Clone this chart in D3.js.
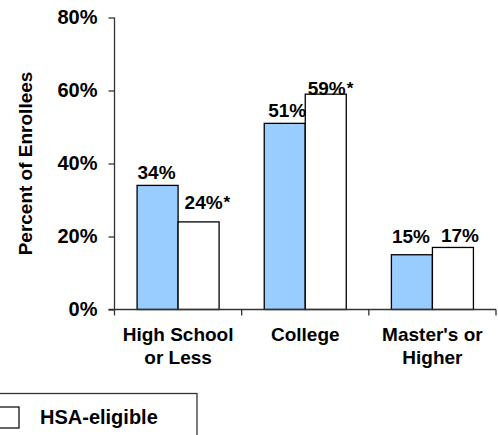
<!DOCTYPE html>
<html>
<head>
<meta charset="utf-8">
<script src="https://cdn.jsdelivr.net/npm/d3@7/dist/d3.min.js"></script>
<style>
  html, body { margin: 0; padding: 0; background: #fff; }
  svg { display: block; font-family: "Liberation Sans", Arial, sans-serif; font-weight: bold; }
</style>
</head>
<body>
<svg id="chart" width="498" height="435"></svg>
<script>
// Education level of enrollees, by plan type
const categories = [["High School", "or Less"], ["College"], ["Master's or", "Higher"]];
const seriesNames = ["Non-HSA-eligible", "HSA-eligible"];
const nonHsaValues = [34, 51, 15];
const hsaValues = [24, 59, 17];
const hsaSignificant = [true, true, false];
const yTicks = [0, 20, 40, 60, 80];

const colors = ["#99ccff", "#ffffff"];
// small hand placement of the value labels: [dx, dy] from the bar's top centre
const labelNudge = [
  [[-1, -6.5], [5, -13]],
  [[2.5, -6.5], [1, 0.5]],
  [[-1, -12], [7, -5]]
];

const svg = d3.select("#chart");
const plot = { left: 114.5, right: 496, top: 17.5, bottom: 309.5 };
const fontSize = 19;

const catKeys = categories.map(c => c.join(" "));
const x0 = d3.scaleBand().domain(catKeys).range([plot.left, plot.right]).padding(0);
const groupW = x0.bandwidth() * 0.645;
const x1 = d3.scaleBand().domain(seriesNames).range([0, groupW]).padding(0);
const y = d3.scaleLinear().domain([0, 80]).range([plot.bottom, plot.top]);

const rows = catKeys.map((k, i) => ({
  key: k, i,
  vals: [
    { s: seriesNames[0], v: nonHsaValues[i], star: false, si: 0 },
    { s: seriesNames[1], v: hsaValues[i], star: hsaSignificant[i], si: 1 }
  ]
}));

// bars
const groups = svg.append("g").selectAll("g").data(rows).join("g")
  .attr("transform", d => `translate(${x0(d.key) + (x0.bandwidth() - groupW) / 2},0)`);

groups.selectAll("rect").data(d => d.vals).join("rect")
  .attr("x", d => x1(d.s))
  .attr("y", d => y(d.v))
  .attr("width", x1.bandwidth())
  .attr("height", d => y(0) - y(d.v))
  .attr("fill", d => colors[d.si])
  .attr("stroke", "#000")
  .attr("stroke-width", 1.3);

// value labels
groups.each(function (row) {
  const g = d3.select(this);
  row.vals.forEach(d => {
    const [dx, dy] = labelNudge[row.i][d.si];
    const cx = x1(d.s) + x1.bandwidth() / 2 + dx;
    const cy = y(d.v) + dy;
    const t = g.append("text")
      .attr("x", cx).attr("y", cy)
      .attr("text-anchor", "middle")
      .attr("font-size", fontSize)
      .attr("fill", "#000")
      .text(d.v + "%");
    if (d.star) {
      const w = t.node().getComputedTextLength();
      g.append("text")
        .attr("x", cx + w / 2 + 1).attr("y", cy - 1)
        .attr("font-size", fontSize * 0.9)
        .attr("fill", "#000")
        .text("*");
    }
  });
});

// y axis
const yAxis = d3.axisLeft(y).tickValues(yTicks).tickSize(6).tickPadding(11)
  .tickFormat(d => d + "%");
const yg = svg.append("g").attr("transform", `translate(${plot.left},0)`).call(yAxis);
yg.select(".domain").attr("stroke", "#333").attr("stroke-width", 1.3)
  .attr("d", `M0,${plot.top}V${plot.bottom}`);
yg.selectAll(".tick line").attr("stroke", "#333").attr("stroke-width", 1.3);
yg.selectAll(".tick text").attr("font-size", 20).attr("font-family", null)
  .attr("font-weight", "bold").attr("fill", "#000");

// x axis with ticks between categories
const xAxisG = svg.append("g").attr("transform", `translate(0,${plot.bottom})`);
xAxisG.append("line")
  .attr("x1", plot.left - 6).attr("x2", plot.right)
  .attr("stroke", "#333").attr("stroke-width", 1.3);
const bounds = catKeys.map(k => x0(k)).concat([plot.right]);
xAxisG.selectAll("line.sep").data(bounds).join("line").attr("class", "sep")
  .attr("x1", d => d).attr("x2", d => d).attr("y1", 0).attr("y2", 6)
  .attr("stroke", "#333").attr("stroke-width", 1.3);

// category labels
svg.append("g").selectAll("text").data(rows).join("text")
  .attr("text-anchor", "middle")
  .attr("font-size", fontSize)
  .attr("fill", "#000")
  .each(function (d) {
    const t = d3.select(this);
    categories[d.i].forEach((line, j) => {
      t.append("tspan")
        .attr("x", x0(d.key) + x0.bandwidth() / 2)
        .attr("y", plot.bottom + 31.5 + j * 22.5)
        .text(line);
    });
  });

// y axis title
svg.append("text")
  .attr("transform", `translate(31.5,${(plot.top + plot.bottom) / 2}) rotate(-90)`)
  .attr("text-anchor", "middle")
  .attr("font-size", fontSize)
  .attr("fill", "#000")
  .text("Percent of Enrollees");

// legend: boxed key for the HSA-eligible series, box running past the left edge
const legend = svg.append("g");
legend.append("rect")
  .attr("x", -440).attr("y", 393.5)
  .attr("width", 637).attr("height", 60)
  .attr("fill", "none")
  .attr("stroke", "#333").attr("stroke-width", 1.3);
const legendItems = legend.selectAll("g").data([1]).join("g")
  .attr("transform", "translate(-2,407)");
legendItems.append("rect")
  .attr("width", 21).attr("height", 21)
  .attr("fill", i => colors[i])
  .attr("stroke", "#000").attr("stroke-width", 1.2);
legendItems.append("text")
  .attr("x", 42).attr("y", 16.5)
  .attr("font-size", 20)
  .attr("fill", "#000")
  .text(i => seriesNames[i]);
</script>
</body>
</html>
